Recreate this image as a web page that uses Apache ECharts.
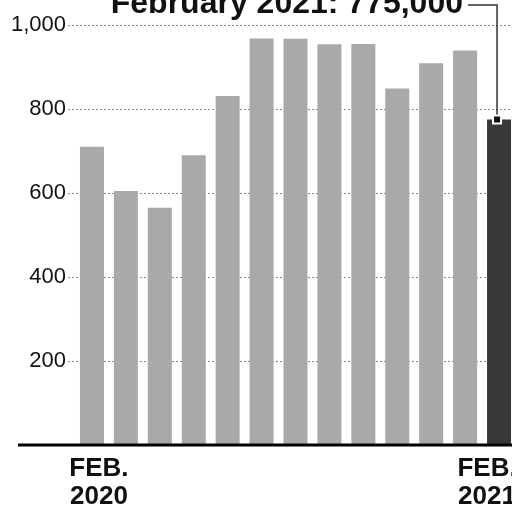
<!DOCTYPE html>
<html>
<head>
<meta charset="utf-8">
<script src="https://cdn.jsdelivr.net/npm/echarts@6/dist/echarts.min.js"></script>
<style>html,body{margin:0;padding:0;background:#fff}#c{width:512px;height:508px}</style>
</head>
<body>
<div id="c"></div>
<script>
const categories = ['Feb 2020','Mar 2020','Apr 2020','May 2020','Jun 2020','Jul 2020','Aug 2020','Sep 2020','Oct 2020','Nov 2020','Dec 2020','Jan 2021','Feb 2021'];
const values = [710, 605, 565, 690, 831, 968, 967, 954, 955, 849, 909, 939, 775];
const yTicks = [0, 200, 400, 600, 800, 1000];
const yTickLabels = ['', '200', '400', '600', '800', '1,000'];
const xTickLabels = ['FEB.\n2020', '', '', '', '', '', '', '', '', '', '', '', 'FEB.\n2021'];
const titleText = 'February 2021: 775,000';
const highlightIndex = 12;

const FONT = '"Liberation Sans", Arial, Helvetica, sans-serif';
const chart = echarts.init(document.getElementById('c'), null, {renderer: 'canvas'});

const xData = categories.map((c, i) => {
  const item = {value: c};
  if (i === 0) item.textStyle = {padding: [0, 0, 0, 14]};
  if (i === categories.length - 1) item.textStyle = {padding: [0, 24, 0, 0]};
  return item;
});

chart.setOption({
  animation: false,
  backgroundColor: '#fff',
  grid: [
    {left: 75, width: 441, top: 25, bottom: 63, containLabel: false, outerBoundsMode: 'none'},
    {left: 68, right: 0, top: 25, bottom: 63, containLabel: false, outerBoundsMode: 'none'}
  ],
  xAxis: [
    {
      type: 'category', gridIndex: 0, data: xData,
      axisLine: {show: false}, axisTick: {show: false},
      axisLabel: {
        interval: 0, margin: 10,
        formatter: (v, i) => xTickLabels[i],
        fontFamily: FONT, fontWeight: 'bold', fontSize: 26, lineHeight: 28, color: '#111'
      }
    },
    {type: 'value', gridIndex: 1, show: false, min: 0, max: 1}
  ],
  yAxis: [
    {type: 'value', gridIndex: 0, min: 0, max: 1000, interval: 200, show: false},
    {
      type: 'value', gridIndex: 1, min: 0, max: 1000, interval: 200,
      axisLine: {show: false}, axisTick: {show: false},
      axisLabel: {
        margin: 2, fontFamily: FONT, fontSize: 22, color: '#111',
        formatter: v => yTickLabels[yTicks.indexOf(v)]
      },
      splitLine: {show: true, lineStyle: {type: [2, 2], color: '#8a8a8a', width: 1}}
    }
  ],
  series: [{
    type: 'bar', xAxisIndex: 0, yAxisIndex: 0, barWidth: 24,
    data: values.map((v, i) => ({value: v, itemStyle: {color: i === highlightIndex ? '#383838' : '#a9a9a9'}}))
  }]
});

const basePx = chart.convertToPixel({gridIndex: 0}, [0, 0]);
const topPx = chart.convertToPixel({seriesIndex: 0}, [highlightIndex, values[highlightIndex]]);
const lx = topPx[0] - 2;
chart.setOption({
  graphic: [
    {type: 'line', z: 100, shape: {x1: 18, y1: basePx[1], x2: 512, y2: basePx[1]}, style: {stroke: '#000', lineWidth: 3}},
    {type: 'text', z: 100, x: 463, y: 4, style: {text: titleText, align: 'right', verticalAlign: 'middle', font: 'bold 32px ' + FONT, fill: '#111'}},
    {type: 'polyline', z: 100, shape: {points: [[468, 5], [lx, 5], [lx, topPx[1]]]}, style: {stroke: '#333', lineWidth: 1.5, fill: null}},
    {type: 'rect', z: 101, shape: {x: lx - 4, y: topPx[1] - 4, width: 8, height: 8}, style: {fill: '#111', stroke: '#fff', lineWidth: 2}}
  ]
});
</script>
</body>
</html>
